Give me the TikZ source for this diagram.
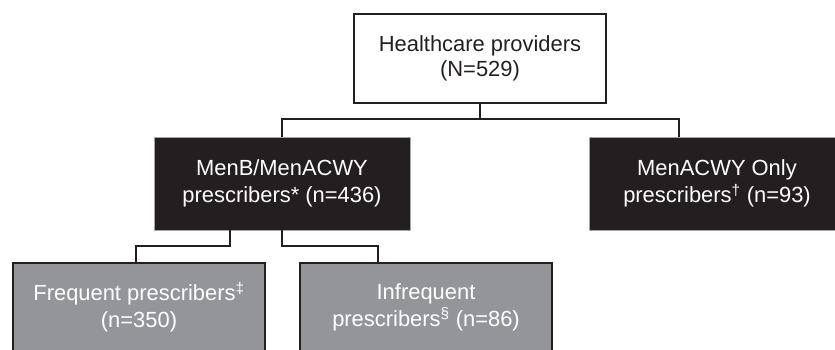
\documentclass[tikz,border=0pt]{standalone}
\usepackage{fontspec}
\setmainfont{Liberation Sans}
\usepackage{tikz}
\usetikzlibrary{positioning}
\definecolor{inkblack}{HTML}{231F20}
\definecolor{boxgrey}{HTML}{939598}
\tikzstyle{rootbox}=[draw=inkblack, fill=white, line width=2.4bp, align=center, text=inkblack, minimum width=252bp, minimum height=89bp, font=\fontsize{22}{25}\selectfont]
\tikzstyle{darkbox}=[draw=black!35, line width=0.6bp, fill=inkblack, align=center, text=white, minimum width=256bp, minimum height=93bp, font=\fontsize{22}{27}\selectfont]
\tikzstyle{greybox}=[draw=inkblack, fill=boxgrey, line width=2.4bp, align=center, text=white, minimum width=252bp, minimum height=88bp, font=\fontsize{22}{27}\selectfont]
\tikzstyle{link}=[draw=inkblack, line width=2.2bp]

\begin{document}
\begin{tikzpicture}[x=1bp, y=-1bp]
            \clip (0,0) rectangle (835,349);
            \fill[white] (0,0) rectangle (835,349);

            \node[rootbox] (hcp) at (480,58.5) {Healthcare providers\\(N=529)};
            \node[darkbox] (menb) at (282,183.5) {MenB/MenACWY\\prescribers* (n=436)};
            \node[darkbox] (acwy) at (717,183.5) {MenACWY Only\\prescribers\textsuperscript{†} (n=93)};
            \node[greybox] (freq) at (139,307) {Frequent prescribers\textsuperscript{‡}\\(n=350)};
            \node[greybox] (infreq) at (426,307) {Infrequent\\prescribers\textsuperscript{§} (n=86)};

            \coordinate (split) at (480,119);
            \coordinate (acwyin) at (679,137);
            \coordinate (menbout) at (230,230);
            \coordinate (freqin) at (136,263);
            \coordinate (infreqin) at (378,263);

            \draw[link] (hcp.south) -- (split);
            \draw[link] (menb.north) |- (split) -| (acwyin);
            \draw[link] (menbout) -- ++(0,16) -| (freqin);
            \draw[link] (menb.south) -- ++(0,16) -| (infreqin);
        \end{tikzpicture}
\end{document}
